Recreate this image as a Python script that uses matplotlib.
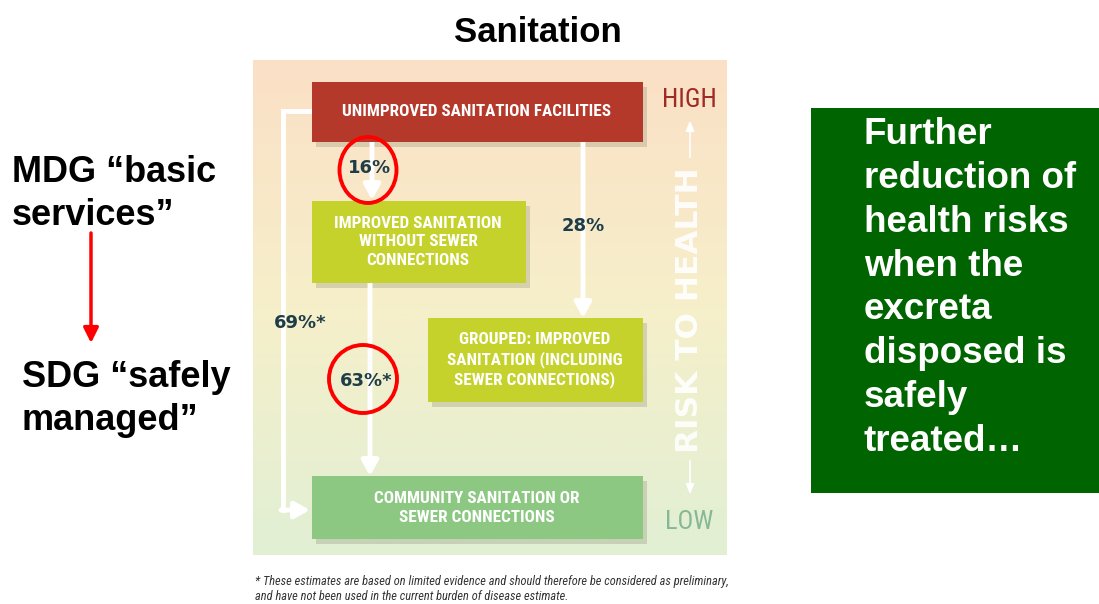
import numpy as np
import matplotlib
matplotlib.use("Agg")
import matplotlib.pyplot as plt
from matplotlib import font_manager
from matplotlib.patches import Rectangle, Ellipse


def pick_font(names):
    installed = {f.name for f in font_manager.fontManager.ttflist}
    for n in names:
        if n in installed:
            return n
    return "DejaVu Sans"


ARIAL = pick_font(["Liberation Sans", "Arial", "DejaVu Sans"])
NARROW = pick_font(["Liberation Sans Narrow", "DejaVu Sans Condensed", "Roboto Condensed", "Liberation Sans"])

# diagram content
title = "Sanitation"
box_labels = [
    "UNIMPROVED SANITATION FACILITIES",
    "IMPROVED SANITATION\nWITHOUT SEWER\nCONNECTIONS",
    "GROUPED: IMPROVED\nSANITATION (INCLUDING\nSEWER CONNECTIONS)",
    "COMMUNITY SANITATION OR\nSEWER CONNECTIONS",
]
box_colors = ["#b5392b", "#c4d22b", "#c4d22b", "#8dc883"]
pct_labels = ["16%", "28%", "63%*", "69%*"]
circled = ["16%", "63%*"]
left_top = "MDG \u201cbasic\nservices\u201d"
left_bottom = "SDG \u201csafely\nmanaged\u201d"
green_note = "Further\nreduction of\nhealth risks\nwhen the\nexcreta\ndisposed is\nsafely\ntreated\u2026"
footnote = ("* These estimates are based on limited evidence and should therefore be considered as preliminary,\n"
            "and have not been used in the current burden of disease estimate.")

fig = plt.figure(figsize=(10.99, 6.04), dpi=100)
ax = fig.add_axes([0, 0, 1, 1])
ax.set_xlim(0, 1099)
ax.set_ylim(604, 0)
ax.axis("off")

# background gradient of the diagram
top = np.array([251, 224, 198]) / 255
mid = np.array([246, 239, 202]) / 255
bot = np.array([225, 239, 212]) / 255
t = np.linspace(0, 1, 200)[:, None]
grad = np.where(t < 0.5, top + (mid - top) * (t / 0.5), mid + (bot - mid) * ((t - 0.5) / 0.5))
grad = np.repeat(grad[:, None, :], 2, axis=1)
ax.imshow(grad, extent=(253, 727, 555, 60), aspect="auto", origin="upper", zorder=0)

ax.text(538, 33, title, ha="center", va="center", fontsize=25, fontweight="bold", family=ARIAL)

# boxes (x0, y0, x1, y1)
boxes = [(312, 82, 643, 142), (312, 201, 526, 283), (428, 318, 643, 402), (312, 476, 643, 539)]
for (x0, y0, x1, y1), lab, col in zip(boxes, box_labels, box_colors):
    ax.add_patch(Rectangle((x0 + 4, y0 + 5), x1 - x0, y1 - y0, color="#7a7a60", alpha=0.25, lw=0, zorder=2))
    ax.add_patch(Rectangle((x0, y0), x1 - x0, y1 - y0, color=col, lw=0, zorder=3))

text_pos = [(477, 112), (418, 242), (535, 360), (477, 508)]
for (x, y), lab in zip(text_pos, box_labels):
    ax.text(x, y, lab, ha="center", va="center", color="white", fontsize=12.3, fontweight="bold",
            family=NARROW, linespacing=1.3, zorder=4)

# arrows
arrow_kw = dict(arrowstyle="-|>,head_length=0.9,head_width=0.5", color="white", lw=3.5, shrinkA=0, shrinkB=0)
ax.annotate("", xy=(372, 200), xytext=(372, 142), arrowprops=arrow_kw, zorder=2)
ax.annotate("", xy=(583, 318), xytext=(583, 142), arrowprops=arrow_kw, zorder=2)
ax.annotate("", xy=(370, 476), xytext=(370, 283), arrowprops=arrow_kw, zorder=2)
ax.plot([312, 283, 283], [111, 111, 510], color="white", lw=3.5, solid_joinstyle="miter", zorder=2)
ax.annotate("", xy=(310, 510), xytext=(281, 510), arrowprops=arrow_kw, zorder=2)

pct_pos = [(370, 168), (583, 226), (366, 381), (300, 323)]
for (x, y), lab in zip(pct_pos, pct_labels):
    ax.text(x, y, lab, ha="center", va="center", color="#1e3d48", fontsize=13, fontweight="bold",
            family="DejaVu Sans", zorder=5)

circle_pos = {"16%": (368, 170, 57, 66), "63%*": (363, 379, 68, 68)}
for lab in circled:
    cx, cy, w, h = circle_pos[lab]
    ax.add_patch(Ellipse((cx, cy), w, h, fill=False, ec="red", lw=2.8, zorder=6))

# risk scale
ax.text(689, 100, "HIGH", ha="center", va="center", color="#9e2c24", fontsize=19, family=NARROW)
ax.text(689, 522, "LOW", ha="center", va="center", color="#86b893", fontsize=19, family=NARROW)
ax.text(690, 310, "RISK TO HEALTH", ha="center", va="center", rotation=90, color="white", alpha=0.9,
        fontsize=22.5, fontweight="bold", family="DejaVu Sans")
ax.annotate("", xy=(690, 118), xytext=(690, 160),
            arrowprops=dict(arrowstyle="-|>,head_length=0.6,head_width=0.25", color="white", lw=1.2))
ax.annotate("", xy=(690, 497), xytext=(690, 458),
            arrowprops=dict(arrowstyle="-|>,head_length=0.6,head_width=0.25", color="white", lw=1.2))

ax.text(255, 589, footnote, ha="left", va="center", color="#333333", fontsize=8.9, style="italic",
        family=NARROW, linespacing=1.3)

# left side labels
ax.text(12, 194, left_top, ha="left", va="center", fontsize=26, fontweight="bold", family=ARIAL,
        linespacing=1.3)
ax.annotate("", xy=(91, 343), xytext=(91, 233),
            arrowprops=dict(arrowstyle="-|>,head_length=0.9,head_width=0.45", color="red", lw=2.5,
                            shrinkA=0, shrinkB=0))
ax.text(22, 399, left_bottom, ha="left", va="center", fontsize=26, fontweight="bold", family=ARIAL,
        linespacing=1.3)

# right note
ax.add_patch(Rectangle((811, 108), 288, 385, color="#006400", lw=0))
ax.text(864, 288, green_note, ha="left", va="center", color="white", fontsize=26.5, fontweight="bold",
        family=ARIAL, linespacing=1.33)

fig.savefig("out.png", dpi=100)
